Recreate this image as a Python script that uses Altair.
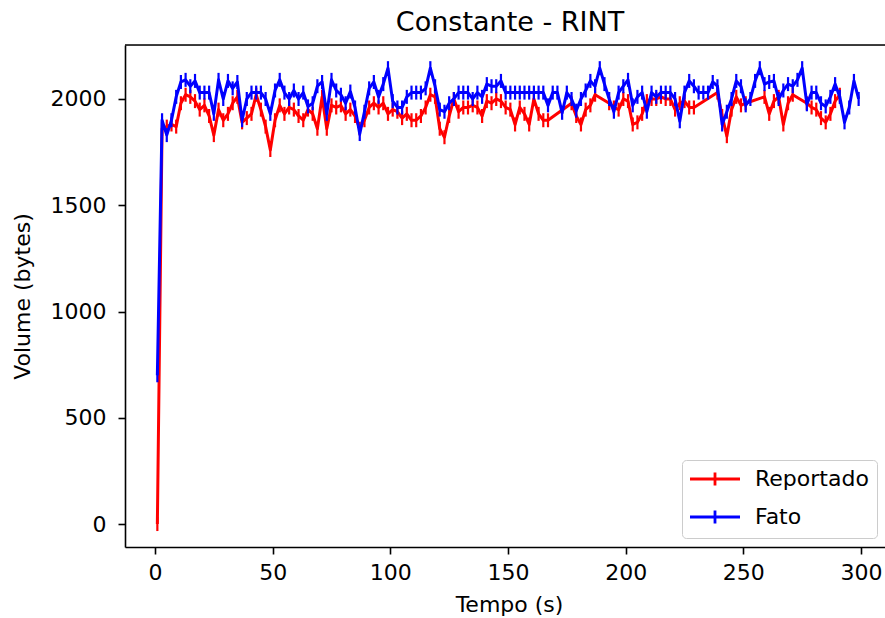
import altair as alt
import pandas as pd

# time in seconds (samples every 2 s)
TEMPO = list(range(1, 300, 2))

FATO = [
    700, 1900, 1830, 1900, 2010, 2080, 2090, 2060, 2085, 2030,
    2030, 2030, 1930, 2090, 2000, 2085, 2050, 2080, 1900, 2000,
    2030, 2030, 2030, 2000, 1930, 2040, 2090, 2030, 2000, 2040,
    2000, 2030, 1965, 1980, 2060, 2080, 1930, 2090, 2040, 2020,
    1980, 2035, 1960, 1835, 1940, 2050, 2080, 2010, 2070, 2145,
    1990, 1960, 1960, 2010, 2030, 2030, 2030, 2050, 2145, 2060,
    1950, 1940, 1980, 2000, 2030, 2030, 2030, 2000, 2030, 2010,
    2070, 2060, 2060, 2085, 2030, 2030, 2030, 2030, 2030, 2030,
    2030, 2030, 2030, 1970, 2030, 2030, 1935, 2030, 2000, 1945,
    2000, 2040, 2085, 2060, 2145, 2070, 2000, 1940, 2030, 2060,
    2090, 1970, 2010, 2030, 1940, 2030, 2010, 2030, 2030, 2030,
    2000, 1895, 2030, 2085, 2060, 2030, 2030, 2030, 2080, 2060,
    1880, 1940, 2000, 2085, 2060, 1970, 2000, 2085, 2145, 2070,
    2080, 2085, 2000, 2040, 2070, 2060, 2090, 2145, 1975, 2030,
    2030, 1980, 1965, 2010, 2070, 2010, 1890, 1960, 2085, 2000,
]

REPORTADO = [
    0, 1860, 1870, 1880, 1870, 1980, 2020, 2010, 1990, 1950,
    1970, 1920, 1830, 1950, 1900, 1930, 1980, 2010, 1890, 1910,
    1930, 2020, 1950, 1870, 1760, 1900, 1970, 1930, 1960, 1950,
    1920, 1900, 1950, 1930, 1860, 2010, 1860, 1970, 1960, 1970,
    1930, 1950, 1920, 1860, 1900, 1960, 1980, 1960, 1980, 1930,
    1950, 1940, 1910, 1930, 1900, 1900, 1920, 1960, 2020, 2010,
    1860, 1820, 1920, 2000, 1940, 1960, 1960, 1970, 1960, 1920,
    1990, 1980, 2000, 1990, 1960, 1950, 1880, 1960, 1930, 1880,
    2000, 1930, 1900, 1900, None, None, None, None, 1980, 1920,
    1880, 1950, 1970, 2020, None, None, 1980, 1960, 1950, 2000,
    1990, 1880, 1890, 1930, 1990, 2000, 2000, 2010, 2000, 2000,
    1950, 1980, 1990, 1960, 1960, None, None, None, None, 2030,
    1920, 1825, 1950, 2010, 1970, 1980, None, None, None, 2010,
    1930, 1990, 2010, 1880, 1980, 2020, None, None, 1980, 1960,
    1950, 1910, 1890, 1930, 1990, 2020, None, None, None, None,
]

SERIES = ["Reportado", "Fato"]
COLORS = ["#ff0000", "#0000ff"]
X_TICKS = [0, 50, 100, 150, 200, 250, 300]
Y_TICKS = [0, 500, 1000, 1500, 2000]

rows = []
for t, v in zip(TEMPO, REPORTADO):
    if v is not None:
        rows.append({"t": t, "v": v, "s": "Reportado"})
for t, v in zip(TEMPO, FATO):
    rows.append({"t": t, "v": v, "s": "Fato"})
df = pd.DataFrame(rows)

FONT = "DejaVu Sans"
W, H = 760, 502

xscale = alt.Scale(domain=[-12.75, 310.2], nice=False, zero=False)
yscale = alt.Scale(domain=[-108, 2254], nice=False, zero=False)
cscale = alt.Scale(domain=SERIES, range=COLORS)

xaxis = alt.Axis(
    values=X_TICKS, format="d", grid=False, labelFlush=False, labelOverlap=False,
    domainColor="black", domainWidth=1.6, tickColor="black", tickWidth=1.6, tickSize=7,
    labelFont=FONT, labelFontSize=22, labelColor="black", labelPadding=8,
    title="Tempo (s)", titleFont=FONT, titleFontSize=22, titleFontWeight="normal",
    titleColor="black", titleX=384, titleY=57, titleAlign="center", titleBaseline="middle",
)
yaxis = alt.Axis(
    values=Y_TICKS, format="d", grid=False, labelFlush=False, labelOverlap=False,
    domainColor="black", domainWidth=1.6, tickColor="black", tickWidth=1.6, tickSize=7,
    labelFont=FONT, labelFontSize=22, labelColor="black", labelPadding=12,
    title="Volume (bytes)", titleFont=FONT, titleFontSize=22, titleFontWeight="normal",
    titleColor="black", titleX=-103, titleY=251, titleAngle=270,
    titleAlign="center", titleBaseline="middle",
)
legend = alt.Legend(
    title=None, orient="none", legendX=557, legendY=415,
    symbolType="M-5,0L5,0M0,-1.3L0,1.3", symbolSize=100, symbolStrokeWidth=2.8,
    symbolOffset=14, labelOffset=29, rowPadding=12, padding=8,
    labelFont=FONT, labelFontSize=22, labelColor="black",
    fillColor="white", strokeColor="#cccccc", cornerRadius=4,
)

base = alt.Chart(df)
layers = []
for name in SERIES:
    d = base.transform_filter(alt.datum.s == name)
    line = d.mark_line(strokeWidth=3, strokeJoin="round").encode(
        x=alt.X("t:Q", scale=xscale, axis=xaxis),
        y=alt.Y("v:Q", scale=yscale, axis=yaxis),
        color=alt.Color("s:N", scale=cscale, legend=legend),
    )
    ticks = d.mark_tick(orient="vertical", size=14, thickness=2.2, opacity=1).encode(
        x=alt.X("t:Q", scale=xscale),
        y=alt.Y("v:Q", scale=yscale),
        color=alt.Color("s:N", scale=cscale, legend=None),
    )
    layers += [line, ticks]

top_spine = alt.Chart(pd.DataFrame({"a": [0]})).mark_rule(
    color="black", strokeWidth=1.6
).encode(x=alt.value(0), x2=alt.value(W), y=alt.value(0))
layers.append(top_spine)

chart = alt.layer(*layers).properties(
    width=W, height=H,
    title=alt.TitleParams(
        text="Constante - RINT", font=FONT, fontSize=27, fontWeight="normal",
        color="black", anchor="middle", baseline="alphabetic", offset=-14, dx=5,
    ),
    padding={"left": 125, "top": 45, "right": 0, "bottom": 71},
    autosize=alt.AutoSizeParams(type="none"),
).configure_view(stroke=None).configure(background="white")

chart.save("out.html", embed_options={"renderer": "svg", "actions": False})
